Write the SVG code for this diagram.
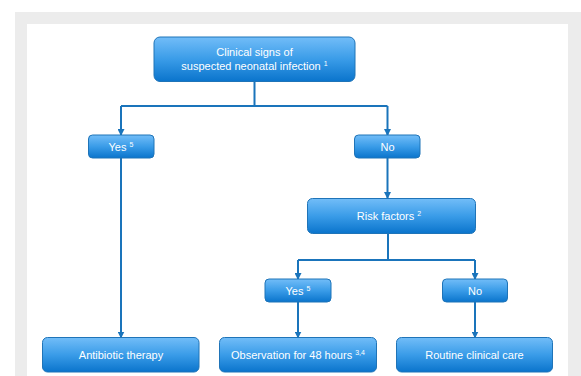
<svg xmlns="http://www.w3.org/2000/svg" width="581" height="376" viewBox="0 0 581 376">
<style>
.box{fill:url(#g);stroke:#1f74b8;stroke-width:1}
.t{font-family:"Liberation Sans",Arial,sans-serif;font-size:11px;fill:#ffffff;text-anchor:middle}
.sup{font-size:7px}
.c{fill:none;stroke:#1a74bb;stroke-width:2}
</style>
<defs>
<linearGradient id="g" x1="0" y1="0" x2="0" y2="1">
<stop offset="0" stop-color="#72bdf8"/>
<stop offset="0.5" stop-color="#3a9ce8"/>
<stop offset="1" stop-color="#0a74cc"/>
</linearGradient>
<marker id="a" markerWidth="7" markerHeight="7" refX="6" refY="3.5" orient="auto" markerUnits="userSpaceOnUse">
<path d="M0,0 L7,3.5 L0,7 Z" fill="#1a74bb"/>
</marker>
</defs>
<rect x="0" y="0" width="581" height="376" fill="#ffffff"/>
<path d="M15,12 H581 V376 H568 V24 H27 V376 H15 Z" fill="#ececec"/>
<g id="connectors">
<path class="c" d="M254.5,81 V106 M121,106 H387.5"/>
<path class="c" d="M121,106 V135" marker-end="url(#a)"/>
<path class="c" d="M387.5,106 V135" marker-end="url(#a)"/>
<path class="c" d="M121,158 V337.5" marker-end="url(#a)"/>
<path class="c" d="M387.5,158 V198" marker-end="url(#a)"/>
<path class="c" d="M388,233 V260 M298,260 H475"/>
<path class="c" d="M298,260 V279" marker-end="url(#a)"/>
<path class="c" d="M475,260 V279" marker-end="url(#a)"/>
<path class="c" d="M298,302 V337.5" marker-end="url(#a)"/>
<path class="c" d="M475,302 V337.5" marker-end="url(#a)"/>
</g>
<g id="clinical">
<rect class="box" x="154" y="37" width="201" height="44.5" rx="6"/>
<text class="t" x="254.5" y="56">Clinical signs of</text>
<text class="t" x="254.5" y="70">suspected neonatal infection <tspan class="sup" dy="-4">1</tspan></text>
</g>
<g id="yes1">
<rect class="box" x="88.5" y="135" width="65.5" height="23" rx="4"/>
<text class="t" x="121" y="150.5">Yes <tspan class="sup" dy="-4">5</tspan></text>
</g>
<g id="no1">
<rect class="box" x="354.5" y="135" width="65.5" height="23" rx="4"/>
<text class="t" x="387.5" y="150.5">No</text>
</g>
<g id="risk">
<rect class="box" x="307.5" y="198.5" width="168" height="35" rx="5"/>
<text class="t" x="389" y="220">Risk factors <tspan class="sup" dy="-4">2</tspan></text>
</g>
<g id="yes2">
<rect class="box" x="265" y="279" width="66" height="23" rx="4"/>
<text class="t" x="298" y="294.5">Yes <tspan class="sup" dy="-4">5</tspan></text>
</g>
<g id="no2">
<rect class="box" x="442.5" y="279" width="65" height="23" rx="4"/>
<text class="t" x="475" y="294.5">No</text>
</g>
<g id="antibiotic">
<rect class="box" x="42.5" y="337.5" width="156.5" height="34.5" rx="5"/>
<text class="t" x="121" y="358.5">Antibiotic therapy</text>
</g>
<g id="observation">
<rect class="box" x="219.5" y="337.5" width="157" height="34.5" rx="5"/>
<text class="t" x="298" y="358.5">Observation for 48 hours <tspan class="sup" dy="-4">3,4</tspan></text>
</g>
<g id="routine">
<rect class="box" x="396.5" y="337.5" width="156" height="34.5" rx="5"/>
<text class="t" x="474.5" y="358.5">Routine clinical care</text>
</g>
</svg>
